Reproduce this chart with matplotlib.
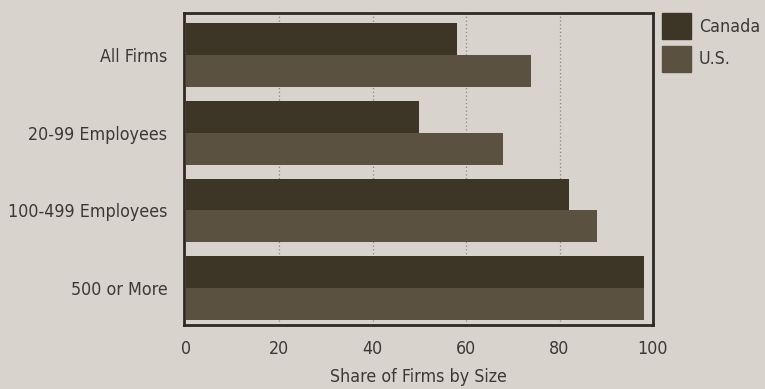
import numpy as np
import matplotlib
matplotlib.use('Agg')
import matplotlib.pyplot as plt
from matplotlib.patches import Patch

categories = ["All Firms", "20-99 Employees", "100-499 Employees", "500 or More"]
canada = [58, 50, 82, 98]
us = [74, 68, 88, 98]
x_ticks = [0, 20, 40, 60, 80, 100]

plt.rcParams['font.family'] = ['DejaVu Sans']
plt.rcParams['font.stretch'] = 'condensed'

bg = '#d8d4cd'
c_canada = '#3d3526'
c_us = '#5a5140'
text_c = '#3a3935'

fig = plt.figure(figsize=(7.65, 3.89), dpi=100, facecolor=bg)
ax = fig.add_axes([0.2405, 0.1645, 0.613, 0.802])
ax.set_facecolor(bg)

y = np.arange(len(categories))
h = 0.41
ax.barh(y - h / 2, canada, height=h, color=c_canada, zorder=3, label="Canada")
ax.barh(y + h / 2, us, height=h, color=c_us, zorder=3, label="U.S.")

ax.set_xlim(-0.4, 100)
ax.set_ylim(3.475, -0.54)
ax.set_xticks(x_ticks)
ax.set_xticklabels([str(t) for t in x_ticks])
ax.set_yticks(y)
ax.set_yticklabels(categories)
ax.tick_params(length=0, colors=text_c, labelsize=12.8)
ax.tick_params(axis='x', pad=11)
ax.tick_params(axis='y', pad=12)

for gx in x_ticks[1:-1]:
    ax.axvline(gx, color='#8a867e', linestyle=(0, (1, 2)), linewidth=0.9, zorder=1)

for s in ax.spines.values():
    s.set_linewidth(2)
    s.set_color('#2e2a24')

ax.set_xlabel("Share of Firms by Size", fontsize=12.8, color=text_c, labelpad=7)

handles = [Patch(color=c_canada, label="Canada"), Patch(color=c_us, label="U.S.")]
leg = ax.legend(handles=handles, loc='upper left', bbox_to_anchor=(1.02, 1.0),
                frameon=False, fontsize=12.8, handlelength=1.6, handleheight=1.85,
                labelspacing=0.4, handletextpad=0.45, borderaxespad=0.0, borderpad=0.0)
for t in leg.get_texts():
    t.set_color(text_c)

plt.savefig('out.png', dpi=100, facecolor=bg)
